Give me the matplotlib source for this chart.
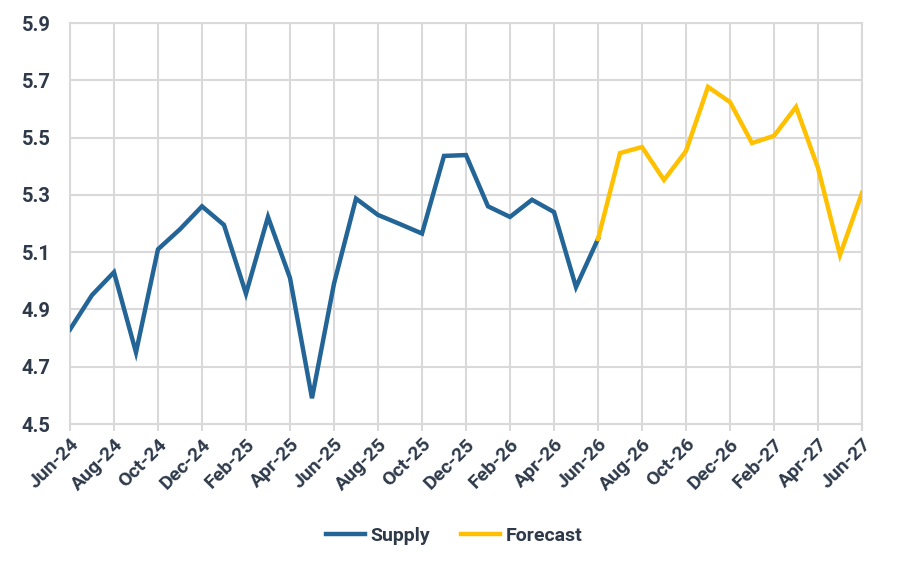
import matplotlib.pyplot as plt
import numpy as np

plt.rcParams["font.family"] = ["Roboto", "DejaVu Sans"]

months = ["Jun-24", "Jul-24", "Aug-24", "Sep-24", "Oct-24", "Nov-24", "Dec-24",
          "Jan-25", "Feb-25", "Mar-25", "Apr-25", "May-25", "Jun-25", "Jul-25",
          "Aug-25", "Sep-25", "Oct-25", "Nov-25", "Dec-25", "Jan-26", "Feb-26",
          "Mar-26", "Apr-26", "May-26", "Jun-26", "Jul-26", "Aug-26", "Sep-26",
          "Oct-26", "Nov-26", "Dec-26", "Jan-27", "Feb-27", "Mar-27", "Apr-27",
          "May-27", "Jun-27"]

supply = [4.83, 4.95, 5.03, 4.75, 5.11, 5.18, 5.26, 5.195, 4.955, 5.223, 5.01,
          4.59, 4.99, 5.287, 5.23, 5.198, 5.165, 5.436, 5.439, 5.26, 5.223,
          5.283, 5.24, 4.978, 5.146]

# forecast starts at Jun-26, joined to the last supply value
forecast = [5.146, 5.446, 5.467, 5.352, 5.453, 5.677, 5.624, 5.481, 5.506,
            5.607, 5.394, 5.09, 5.307]

x_all = np.arange(len(months))
x_sup = x_all[:len(supply)]
x_fc = x_all[len(supply) - 1:]

blue = "#236596"
gold = "#FFC000"
txt = "#2E3A4A"
grid = "#D9D9D9"

fig = plt.figure(figsize=(9.03, 5.67), dpi=100)
ax = fig.add_axes([0.0775, 0.2522, 0.8771, 0.7072])

ax.plot(x_sup, supply, color=blue, lw=3.2, label="Supply", zorder=3,
        solid_joinstyle="miter")
ax.plot(x_fc, forecast, color=gold, lw=3.2, label="Forecast", zorder=4,
        solid_joinstyle="miter")

ax.set_xlim(0, len(months) - 1)
ax.set_ylim(4.5, 5.9)
ax.set_yticks(np.arange(4.5, 5.91, 0.2))
ax.set_yticklabels([f"{v:.1f}" for v in np.arange(4.5, 5.91, 0.2)])
ax.set_xticks(x_all[::2])
ax.set_xticklabels(months[::2], rotation=45, ha="right", rotation_mode="anchor")

ax.grid(True, color=grid, lw=1.5)
ax.set_axisbelow(True)
for s in ax.spines.values():
    s.set_color(grid)
    s.set_linewidth(1.5)

ax.tick_params(axis="y", length=0, pad=14, labelsize=14.5, labelcolor=txt)
ax.tick_params(axis="x", length=5, width=1.5, color=grid, pad=3,
               labelsize=14, labelcolor=txt)
for lab in ax.get_xticklabels() + ax.get_yticklabels():
    lab.set_fontweight("bold")

leg = fig.legend(loc="center", bbox_to_anchor=(0.503, 0.055), ncol=2,
                 frameon=False, handlelength=2.0, columnspacing=1.6,
                 handletextpad=0.3, prop={"weight": "bold", "size": 14})
for t in leg.get_texts():
    t.set_color(txt)

fig.savefig("out.png", dpi=100)
